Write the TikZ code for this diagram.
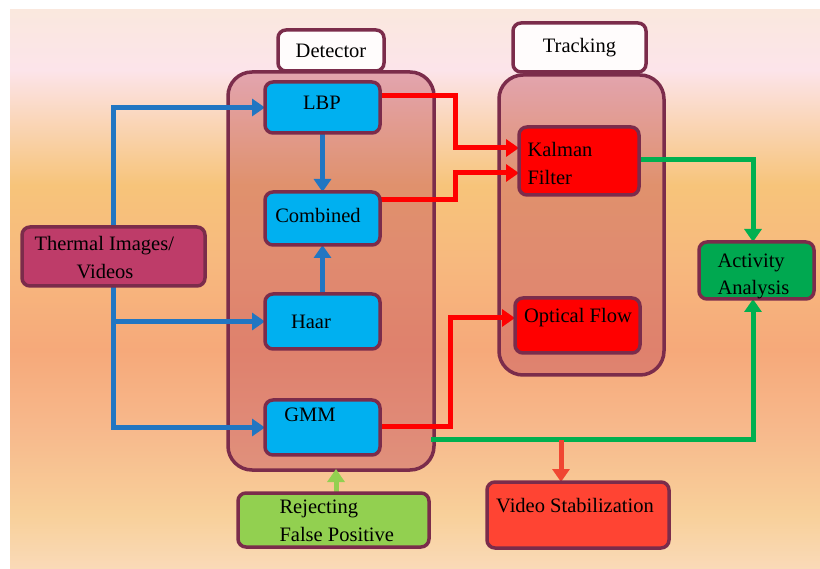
\documentclass[tikz,border=0pt]{standalone}
\usepackage{fontspec}
\setmainfont{Liberation Serif}
\usetikzlibrary{arrows.meta,calc}
\definecolor{maroon}{RGB}{123,44,75}
\definecolor{boxblue}{RGB}{0,176,240}
\definecolor{arrblue}{RGB}{33,118,194}
\definecolor{boxred}{RGB}{255,0,0}
\definecolor{boxgreen}{RGB}{0,168,80}
\definecolor{arrgreen}{RGB}{0,176,80}
\definecolor{lgreen}{RGB}{146,208,80}
\definecolor{vsred}{RGB}{255,68,51}
\definecolor{vsarrow}{RGB}{240,70,50}
\definecolor{thermal}{RGB}{190,60,105}
\definecolor{contfill}{RGB}{190,70,90}
\definecolor{bgA}{RGB}{250,232,222}
\definecolor{bgB}{RGB}{252,228,234}
\definecolor{bgC}{RGB}{247,196,122}
\definecolor{bgD}{RGB}{247,185,126}
\definecolor{bgE}{RGB}{246,169,122}
\definecolor{bgF}{RGB}{247,185,140}
\definecolor{bgG}{RGB}{248,208,154}
\definecolor{bgH}{RGB}{250,218,184}
\pgfdeclareverticalshading{bgshade}{100bp}{color(0bp)=(bgH); color(25bp)=(bgH); color(29.83bp)=(bgG); color(37.43bp)=(bgF); color(44.59bp)=(bgE); color(52.64bp)=(bgD); color(59.35bp)=(bgC); color(69.63bp)=(bgB); color(75bp)=(bgA); color(100bp)=(bgA)}
\tikzset{
  txt/.style={font=\fontsize{20.5}{28}\selectfont, text=black},
  box/.style={draw=maroon, line width=3.5pt, rounded corners=8pt, inner sep=0pt, txt},
  cont/.style={draw=maroon, line width=3.5pt, rounded corners=24pt, fill=contfill, fill opacity=0.4, inner sep=0pt},
  lbl/.style={box, fill=white!96!pink},
  bluebox/.style={box, fill=boxblue},
  conn/.style={line width=5pt, line join=miter, -{Triangle[length=13pt,width=17pt]}},
  bluearr/.style={conn, draw=arrblue},
  redarr/.style={conn, draw=boxred},
  greenarr/.style={conn, draw=arrgreen},
}
\begin{document}
\begin{tikzpicture}[x=1pt,y=-1pt]
\useasboundingbox (0,0) rectangle (820,569);
\fill[white] (0,0) rectangle (820,569);
\shade[shading=bgshade] (10,10) rectangle (820,569);

% containers
\node[cont, minimum width=206pt, minimum height=398pt] (det) at (331,271) {};
\node[cont, minimum width=165pt, minimum height=300pt] (trk) at (581.5,225) {};
\node[lbl, minimum width=106pt, minimum height=41pt] (detl) at (331,50.5) {Detector};
\node[lbl, minimum width=133pt, minimum height=49pt] (trkl) at (579.5,47.5) {Tracking};

% connector end points
\coordinate (lbpo) at (380,96);
\coordinate (combo) at (380,200);
\coordinate (g0) at (431,440);
\coordinate (r0) at (561,440);
\coordinate (kin1) at (519,148);
\coordinate (kin2) at (519,173);
\coordinate (oin) at (515,318);

% connectors
\draw[bluearr] (113.5,227) |- (265,107.5);
\draw[bluearr] (113.5,286) |- (265,321.5);
\draw[bluearr] (113.5,286) |- (265,427.5);
\draw[bluearr] (322.5,133) -- (322.5,192);
\draw[bluearr] (322.5,294) -- (322.5,245);

\draw[redarr] (lbpo) -- ++(75,0) |- (kin1);
\draw[redarr] (combo) -- ++(75,0) |- (kin2);
\draw[redarr] (380,427) -- ++(70,0) |- (oin);

\draw[greenarr] (639,160) -| (753,242);
\draw[greenarr] (g0) -| (753,299);
\draw[conn, draw=vsarrow] (r0) -- (561,482);
\draw[conn, draw=lgreen] (336,493) -- (336,469);

% boxes
\node[box, fill=thermal, minimum width=183pt, minimum height=59pt] (th) at (113.5,256.5) {};
\node[txt, anchor=base west] (tht1) at (31,251) {Thermal Images/};
\node[txt, anchor=base] (tht2) at (105,279) {Videos};

\node[bluebox, minimum width=115pt, minimum height=51pt] (lbp) at (322.5,107.5) {};
\node[txt, anchor=base] (lbpt) at (322,110) {LBP};
\node[bluebox, minimum width=115pt, minimum height=53pt] (comb) at (322.5,218.5) {};
\node[txt, anchor=base] (combt) at (318,223) {Combined};
\node[bluebox, minimum width=115pt, minimum height=55pt] (haar) at (322.5,321.5) {};
\node[txt, anchor=base] (haart) at (311,329) {Haar};
\node[bluebox, minimum width=115pt, minimum height=55pt] (gmm) at (322.5,427.5) {};
\node[txt, anchor=base] (gmmt) at (310,422) {GMM};

\node[box, fill=boxred, minimum width=120pt, minimum height=68pt] (kal) at (579,161) {};
\node[txt, anchor=base west] (kalt1) at (524,157) {Kalman};
\node[txt, anchor=base west] (kalt2) at (524,185) {Filter};
\node[box, fill=boxred, minimum width=125pt, minimum height=55pt] (opt) at (577.5,325.5) {};
\node[txt, anchor=base] (optt) at (578,323) {Optical Flow};

\node[box, fill=boxgreen, minimum width=115pt, minimum height=57pt] (act) at (756.5,270.5) {};
\node[txt, anchor=base west] (actt1) at (714,268) {Activity};
\node[txt, anchor=base west] (actt2) at (714,295) {Analysis};

\node[box, fill=lgreen, minimum width=191pt, minimum height=54pt] (rej) at (333.5,520) {};
\node[txt, anchor=base west] (rejt1) at (276,513) {Rejecting};
\node[txt, anchor=base west] (rejt2) at (276,541) {False Positive};

\node[box, fill=vsred, minimum width=182pt, minimum height=66pt] (vs) at (578,515) {};
\node[txt, anchor=base] (vst) at (575,512) {Video Stabilization};
\end{tikzpicture}
\end{document}
